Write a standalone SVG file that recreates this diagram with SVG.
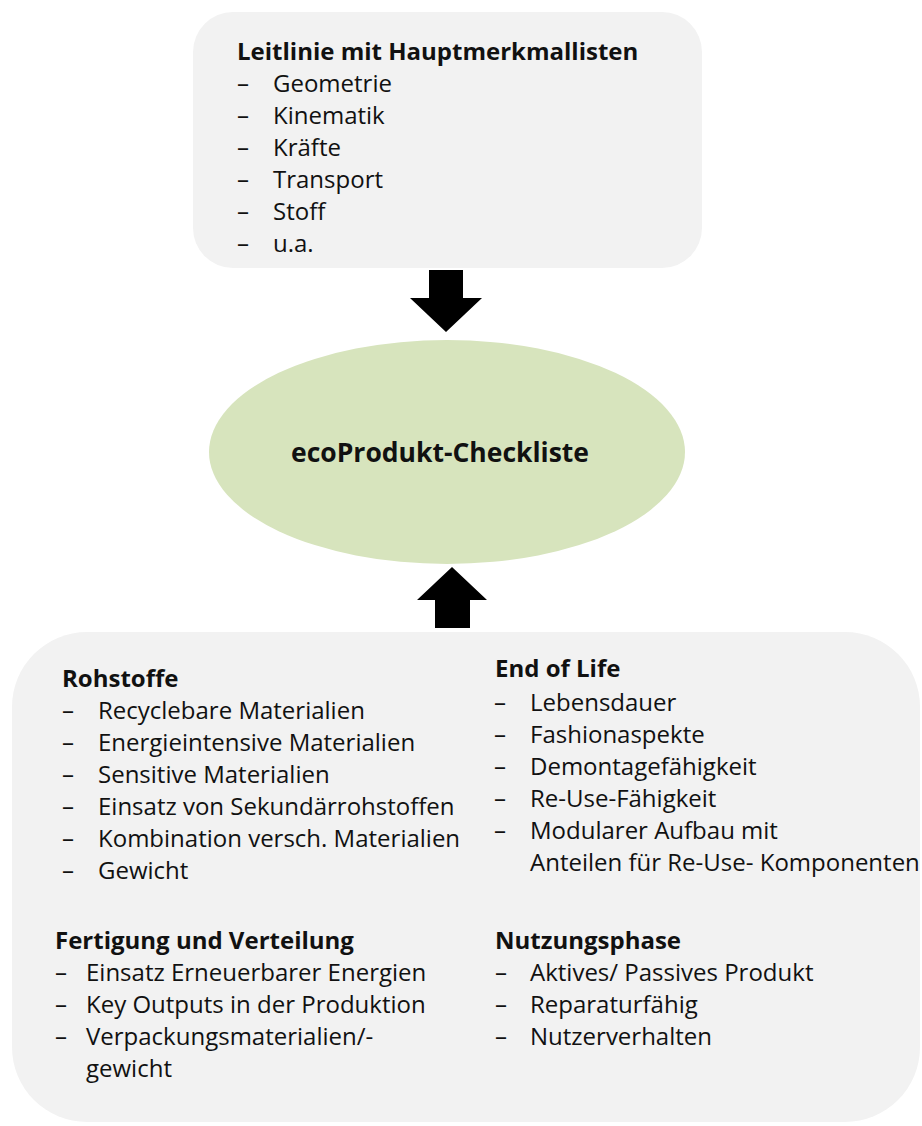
<svg xmlns="http://www.w3.org/2000/svg" width="922" height="1126" viewBox="0 0 922 1126">
  <style>
    .box { fill: #f2f2f2; }
    .hub { fill: #d7e4bd; }
    .arrow { fill: #000000; }
    text { font-family: "Open Sans", "Liberation Sans", sans-serif; font-size: 24px; fill: #111111; }
    .head { font-weight: bold; }
    .title { font-weight: bold; font-size: 26.5px; }
  </style>
  <rect width="922" height="1126" fill="#ffffff"/>

  <!-- guideline box -->
  <g id="leitlinie">
    <rect class="box" x="193" y="12" width="509" height="256" rx="40" ry="40"/>
    <text class="head" x="237" y="60" font-size="23.5">Leitlinie mit Hauptmerkmallisten</text>
    <text x="237" y="92">–</text><text x="273" y="92">Geometrie</text>
    <text x="237" y="124">–</text><text x="273" y="124">Kinematik</text>
    <text x="237" y="156">–</text><text x="273" y="156">Kräfte</text>
    <text x="237" y="188">–</text><text x="273" y="188">Transport</text>
    <text x="237" y="220">–</text><text x="273" y="220">Stoff</text>
    <text x="237" y="252">–</text><text x="273" y="252">u.a.</text>
  </g>

  <!-- central checklist -->
  <g id="checkliste">
    <ellipse class="hub" cx="447" cy="452" rx="238" ry="112"/>
    <text class="title" x="440" y="462" text-anchor="middle">ecoProdukt-Checkliste</text>
  </g>

  <!-- lifecycle criteria box -->
  <g id="lebenszyklus">
    <rect class="box" x="12" y="632" width="908" height="490" rx="75" ry="75"/>

    <text class="head" x="62" y="687">Rohstoffe</text>
    <text x="62" y="719">–</text><text x="98" y="719">Recyclebare Materialien</text>
    <text x="62" y="751">–</text><text x="98" y="751">Energieintensive Materialien</text>
    <text x="62" y="783">–</text><text x="98" y="783">Sensitive Materialien</text>
    <text x="62" y="815">–</text><text x="98" y="815">Einsatz von Sekundärrohstoffen</text>
    <text x="62" y="847">–</text><text x="98" y="847">Kombination versch. Materialien</text>
    <text x="62" y="879">–</text><text x="98" y="879">Gewicht</text>

    <text class="head" x="495" y="677">End of Life</text>
    <text x="494" y="711">–</text><text x="530" y="711">Lebensdauer</text>
    <text x="494" y="743">–</text><text x="530" y="743">Fashionaspekte</text>
    <text x="494" y="775">–</text><text x="530" y="775">Demontagefähigkeit</text>
    <text x="494" y="807">–</text><text x="530" y="807">Re-Use-Fähigkeit</text>
    <text x="494" y="839">–</text><text x="530" y="839">Modularer Aufbau mit</text>
    <text x="530" y="871">Anteilen für Re-Use- Komponenten</text>

    <text class="head" x="55" y="949">Fertigung und Verteilung</text>
    <text x="55" y="981">–</text><text x="86" y="981">Einsatz Erneuerbarer Energien</text>
    <text x="55" y="1013">–</text><text x="86" y="1013">Key Outputs in der Produktion</text>
    <text x="55" y="1045">–</text><text x="86" y="1045">Verpackungsmaterialien/-</text>
    <text x="86" y="1077">gewicht</text>

    <text class="head" x="495" y="949">Nutzungsphase</text>
    <text x="495" y="981">–</text><text x="530" y="981">Aktives/ Passives Produkt</text>
    <text x="495" y="1013">–</text><text x="530" y="1013">Reparaturfähig</text>
    <text x="495" y="1045">–</text><text x="530" y="1045">Nutzerverhalten</text>
  </g>

  <!-- block arrows into the checklist -->
  <g id="connectors">
    <path class="arrow" d="M429,270 H463 V298 H482 L446,332 L410,298 H429 Z"/>
    <path class="arrow" d="M435,628 V600 H417 L452,567 L487,600 H470 V628 Z"/>
  </g>
</svg>
